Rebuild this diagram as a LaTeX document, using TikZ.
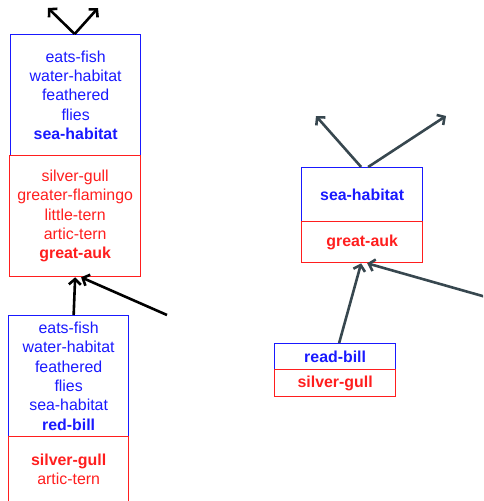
\documentclass[tikz,border=0pt]{standalone}
\usepackage{fontspec}
\setmainfont{Liberation Sans}
\usetikzlibrary{arrows.meta}
\definecolor{bl}{RGB}{25,25,255}
\definecolor{rd}{RGB}{255,30,30}
\definecolor{slate}{RGB}{55,71,79}
\begin{document}
\begin{tikzpicture}[x=1pt,y=-1pt,
  box/.style={draw, rectangle, anchor=north west, inner sep=0pt, line width=1.3pt, align=center, font=\fontsize{15.9}{19.3}\selectfont},
  bbox/.style={box, draw=bl, text=bl},
  rbox/.style={box, draw=rd, text=rd},
  arr/.style={-{Straight Barb[length=5.5pt,width=12pt]}, line width=2.6pt, draw=black},
  arrs/.style={arr, draw=slate}]
\useasboundingbox (0,0) rectangle (483,501);
\clip (0,0) rectangle (483,501);
% left column
\node[bbox, minimum width=130pt, minimum height=121pt] (A) at (10,34) {eats-fish\\water-habitat\\feathered\\flies\\\textbf{sea-habitat}};
\node[rbox, minimum width=131pt, minimum height=121pt] (B) at (9,155) {silver-gull\\greater-flamingo\\little-tern\\artic-tern\\\textbf{great-auk}};
\node[bbox, minimum width=120pt, minimum height=121pt] (C) at (8,315) {eats-fish\\water-habitat\\feathered\\flies\\sea-habitat\\\textbf{red-bill}};
\node[rbox, minimum width=120pt, minimum height=66pt] (Cr) at (8,436) {\textbf{silver-gull}\\artic-tern};
% right column
\node[bbox, minimum width=121pt, minimum height=54pt] (D) at (301,167) {\textbf{sea-habitat}};
\node[rbox, minimum width=121pt, minimum height=41pt] (E) at (301,221) {\textbf{great-auk}};
\node[bbox, minimum width=121pt, minimum height=26pt] (F) at (274,343) {\textbf{read-bill}};
\node[rbox, minimum width=121pt, minimum height=27pt] (Fr) at (274,369) {\textbf{silver-gull}};
% free ends
\coordinate (t1) at (48,8);
\coordinate (t2) at (98,8);
\coordinate (s1) at (167,315);
\coordinate (t3) at (316,116);
\coordinate (t4) at (446,116);
\coordinate (s2) at (486,297);
% connectors
\draw[arr] ([xshift=-1pt]A.north) -- (t1);
\draw[arr] ([xshift=-1pt]A.north) -- (t2);
\draw[arr] ([xshift=5pt]C.north) -- (B.south);
\draw[arr] (s1) -- ([xshift=6pt]B.south);
\draw[arrs] ([xshift=-1pt]D.north) -- (t3);
\draw[arrs] ([xshift=6pt]D.north) -- (t4);
\draw[arrs] ([xshift=4pt]F.north) -- ([xshift=-1pt]E.south);
\draw[arrs] (s2) -- ([xshift=5pt]E.south);
\end{tikzpicture}
\end{document}
